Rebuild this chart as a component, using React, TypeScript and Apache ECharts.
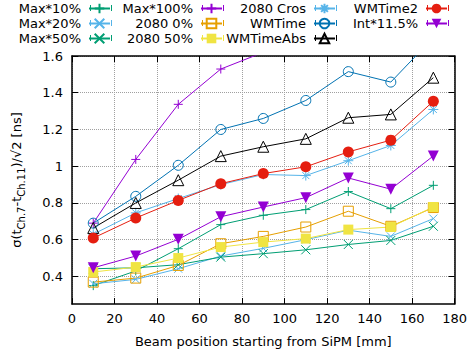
import React, { useEffect, useRef } from 'react';
import * as echarts from 'echarts';

const positions = [10, 30, 50, 70, 90, 110, 130, 150, 170];
const max10 = [0.35, 0.43, 0.551, 0.682, 0.733, 0.764, 0.862, 0.769, 0.896];
const max20 = [0.36, 0.384, 0.442, 0.511, 0.553, 0.6, 0.652, 0.618, 0.715];
const max50 = [0.442, 0.447, 0.464, 0.505, 0.524, 0.545, 0.574, 0.596, 0.673];
const max100 = [0.69, 1.037, 1.337, 1.529, 1.62, 1.75, 1.9, 2.0, 2.1];
const r2080p0 = [0.369, 0.391, 0.46, 0.578, 0.618, 0.669, 0.755, 0.673, 0.775];
const r2080p50 = [0.424, 0.451, 0.5, 0.56, 0.587, 0.606, 0.655, 0.669, 0.778];
const r2080cros = [0.63, 0.746, 0.824, 0.9, 0.955, 0.949, 1.03, 1.113, 1.309];
const wmTime = [0.69, 0.836, 1.005, 1.2, 1.26, 1.358, 1.515, 1.458, 1.7];
const wmTimeAbs = [0.664, 0.8, 0.924, 1.055, 1.106, 1.149, 1.264, 1.282, 1.482];
const wmTime2 = [0.609, 0.718, 0.814, 0.905, 0.96, 0.997, 1.078, 1.142, 1.354];
const int115 = [0.447, 0.511, 0.602, 0.725, 0.778, 0.829, 0.936, 0.875, 1.056];

const yTicks = [0.4, 0.6, 0.8, 1.0, 1.2, 1.4, 1.6];

const PURPLE = '#9400d3';
const GREEN = '#009e73';
const LBLUE = '#56b4e9';
const ORANGE = '#e69f00';
const YELLOW = '#f0e442';
const BLUE = '#0072b2';
const RED = '#e51e10';
const BLACK = '#000000';

const PLUS = 'path://M5 0L5 10M0 5L10 5';
const CROSS = 'path://M0 0L10 10M10 0L0 10';
const STAR = 'path://M5 0L5 10M0 5L10 5M1.5 1.5L8.5 8.5M8.5 1.5L1.5 8.5';
const DOWNTRI = 'path://M0 0L10 0L5 9Z';

const FONT = 'DejaVu Sans';

type Def = { name: string; data: number[]; color: string; symbol: string; open: boolean; size: number };

const defs: Def[] = [
  { name: 'Max*10%', data: max10, color: GREEN, symbol: PLUS, open: true, size: 9 },
  { name: 'Max*20%', data: max20, color: LBLUE, symbol: CROSS, open: true, size: 8 },
  { name: 'Max*50%', data: max50, color: GREEN, symbol: CROSS, open: true, size: 9 },
  { name: 'Max*100%', data: max100, color: PURPLE, symbol: PLUS, open: true, size: 9 },
  { name: '2080 0%', data: r2080p0, color: ORANGE, symbol: 'rect', open: true, size: 10 },
  { name: '2080 50%', data: r2080p50, color: YELLOW, symbol: 'rect', open: false, size: 10 },
  { name: '2080 Cros', data: r2080cros, color: LBLUE, symbol: STAR, open: true, size: 10 },
  { name: 'WMTime', data: wmTime, color: BLUE, symbol: 'circle', open: true, size: 10 },
  { name: 'WMTimeAbs', data: wmTimeAbs, color: BLACK, symbol: 'triangle', open: true, size: 11 },
  { name: 'WMTime2', data: wmTime2, color: RED, symbol: 'circle', open: false, size: 11 },
  { name: 'Int*11.5%', data: int115, color: PURPLE, symbol: DOWNTRI, open: false, size: 11 },
];

const legendRights = [359, 247, 134, 22];
const legendTops = [2, 17, 32];
const SAMPLE_W = 21;

export default function App() {
  const ref = useRef<HTMLDivElement>(null);
  useEffect(() => {
    const chart = echarts.init(ref.current!, null, { renderer: 'svg' });
    const fmt = (v: number) => String(Math.round(v * 10) / 10);
    const W = 470;
    const caps: any[] = [];
    defs.forEach((d, i) => {
      const col = Math.floor(i / 3);
      const row = i % 3;
      const xr = W - legendRights[col];
      const xl = xr - SAMPLE_W;
      const cy = legendTops[row] + 6;
      [xl, xr].forEach((x) => {
        caps.push({
          type: 'line',
          shape: { x1: x + 0.5, y1: cy - 3, x2: x + 0.5, y2: cy + 3 },
          style: { stroke: d.color, lineWidth: 1 },
          z: 100,
        });
      });
    });
    const option: any = {
      animation: false,
      backgroundColor: '#ffffff',
      textStyle: { fontFamily: FONT },
      grid: { left: 72, right: 14, top: 56, bottom: 51, containLabel: false },
      graphic: caps,
      legend: defs.map((d, i) => ({
        data: [d.name],
        right: legendRights[Math.floor(i / 3)],
        top: legendTops[i % 3],
        align: 'right',
        orient: 'horizontal',
        itemWidth: SAMPLE_W,
        itemHeight: 12,
        padding: 0,
        selectedMode: false,
        textStyle: { fontSize: 13, fontFamily: FONT, color: '#000', padding: [0, 3, 0, 0] },
      })),
      xAxis: [
        {
          type: 'value',
          min: 0,
          max: 180,
          interval: 20,
          position: 'bottom',
          name: 'Beam position starting from SiPM [mm]',
          nameLocation: 'middle',
          nameGap: 31,
          nameTextStyle: { fontSize: 13, fontFamily: FONT, color: '#000' },
          axisLine: { show: true, onZero: false, lineStyle: { color: '#000', width: 1.5 } },
          axisTick: { show: true, inside: true, length: 6, lineStyle: { color: '#000' } },
          axisLabel: { show: true, fontSize: 13, fontFamily: FONT, color: '#000', margin: 8 },
          splitLine: { show: true, lineStyle: { color: '#a0a0a0', type: 'dotted', width: 1 } },
        },
        {
          type: 'value',
          min: 0,
          max: 180,
          interval: 20,
          position: 'top',
          axisLine: { show: true, onZero: false, lineStyle: { color: '#000', width: 1.5 } },
          axisTick: { show: true, inside: true, length: 6, lineStyle: { color: '#000' } },
          axisLabel: { show: false },
          splitLine: { show: false },
        },
      ],
      yAxis: [
        {
          type: 'value',
          min: 0.25,
          max: 1.6,
          position: 'left',
          name: '{n|σ(t}{s|Ch.7}{n|-t}{s|Ch.11}{n|)/√2 [ns]}',
          nameLocation: 'middle',
          nameRotate: 90,
          nameGap: 46,
          nameTextStyle: {
            fontSize: 13,
            fontFamily: FONT,
            color: '#000',
            rich: {
              n: { fontSize: 13, fontFamily: FONT, color: '#000', lineHeight: 20, verticalAlign: 'middle' },
              s: { fontSize: 10, fontFamily: FONT, color: '#000', lineHeight: 12, verticalAlign: 'bottom' },
            },
          },
          axisLine: { show: true, onZero: false, lineStyle: { color: '#000', width: 1.5 } },
          axisTick: { show: true, inside: true, length: 6, customValues: yTicks, lineStyle: { color: '#000' } },
          axisLabel: { show: true, fontSize: 13, fontFamily: FONT, color: '#000', margin: 9, customValues: yTicks, formatter: fmt },
          splitLine: { show: true, lineStyle: { color: '#a0a0a0', type: 'dotted', width: 1 } },
        },
        {
          type: 'value',
          min: 0.25,
          max: 1.6,
          position: 'right',
          axisLine: { show: true, onZero: false, lineStyle: { color: '#000', width: 1.5 } },
          axisTick: { show: true, inside: true, length: 6, customValues: yTicks, lineStyle: { color: '#000' } },
          axisLabel: { show: false, customValues: yTicks },
          splitLine: { show: false },
        },
      ],
      series: defs.map((d) => ({
        name: d.name,
        type: 'line',
        xAxisIndex: 0,
        yAxisIndex: 0,
        data: positions.map((x, i) => [x, d.data[i]]),
        symbol: d.symbol,
        symbolSize: d.size,
        showSymbol: true,
        clip: true,
        lineStyle: { color: d.color, width: 1 },
        itemStyle: d.open
          ? { color: 'rgba(0,0,0,0)', borderColor: d.color, borderWidth: 1 }
          : { color: d.color, borderColor: d.color, borderWidth: 0 },
        emphasis: { disabled: true },
        z: 2,
      })),
    };
    chart.setOption(option);
    return () => chart.dispose();
  }, []);
  return <div ref={ref} style={{ position: 'fixed', left: 0, top: 0, width: 470, height: 355 }} />;
}
